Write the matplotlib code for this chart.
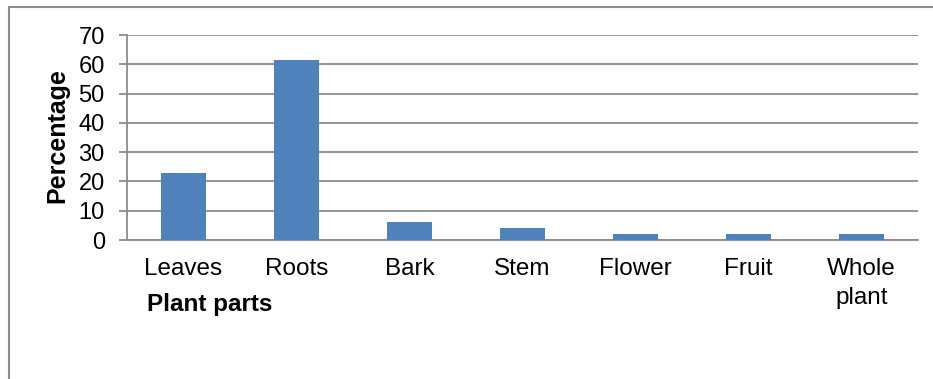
import matplotlib
matplotlib.use("Agg")
import matplotlib.pyplot as plt
from matplotlib.lines import Line2D

# data
parts = ["Leaves", "Roots", "Bark", "Stem", "Flower", "Fruit", "Whole\nplant"]
percent = [23, 61.5, 6, 4, 2, 2, 2]
y_ticks = [0, 10, 20, 30, 40, 50, 60, 70]

plt.rcParams['font.family'] = ['Liberation Sans', 'DejaVu Sans']

W, H = 933, 379
fig = plt.figure(figsize=(W / 100, H / 100), dpi=100)

# axes box in pixels: x 127..918, y 35..240
ax = fig.add_axes([127 / W, 1 - 240 / H, (918 - 127) / W, (240 - 35) / H])

grid_col = '#8c8c8c'
ax.bar(range(len(parts)), percent, width=0.40, color='#4F81BD', zorder=3)

ax.set_xlim(-0.5, len(parts) - 0.5)
ax.set_ylim(0, 70)
ax.set_yticks(y_ticks)
ax.yaxis.grid(True, color=grid_col, linewidth=1.3)
ax.set_axisbelow(True)

for s in ['top', 'right']:
    ax.spines[s].set_visible(False)
for s in ['left', 'bottom']:
    ax.spines[s].set_color(grid_col)
    ax.spines[s].set_linewidth(1.3)

ax.tick_params(axis='y', length=6, width=1.3, color=grid_col, pad=10,
               labelsize=17)
ax.set_xticks(range(len(parts)))
ax.set_xticklabels(parts, fontsize=17.5, va='top')
for lbl in ax.get_xticklabels():
    lbl.set_linespacing(1.4)
ax.tick_params(axis='x', length=0, pad=13)

fig.text(57 / W, 1 - 136 / H, 'Percentage', fontsize=18, fontweight='bold',
         rotation=90, ha='center', va='center')
fig.text(210 / W, 1 - 305 / H, 'Plant parts', fontsize=17.5, fontweight='bold',
         ha='center', va='center')

# outer chart frame (only top and left edges visible)
fig.add_artist(Line2D([9 / W, 9 / W], [0, 1 - 7 / H], transform=fig.transFigure,
                      color='#8c8c8c', linewidth=1.5))
fig.add_artist(Line2D([9 / W, 1], [1 - 7 / H, 1 - 7 / H], transform=fig.transFigure,
                      color='#8c8c8c', linewidth=1.5))

fig.savefig('out.png', dpi=100)
